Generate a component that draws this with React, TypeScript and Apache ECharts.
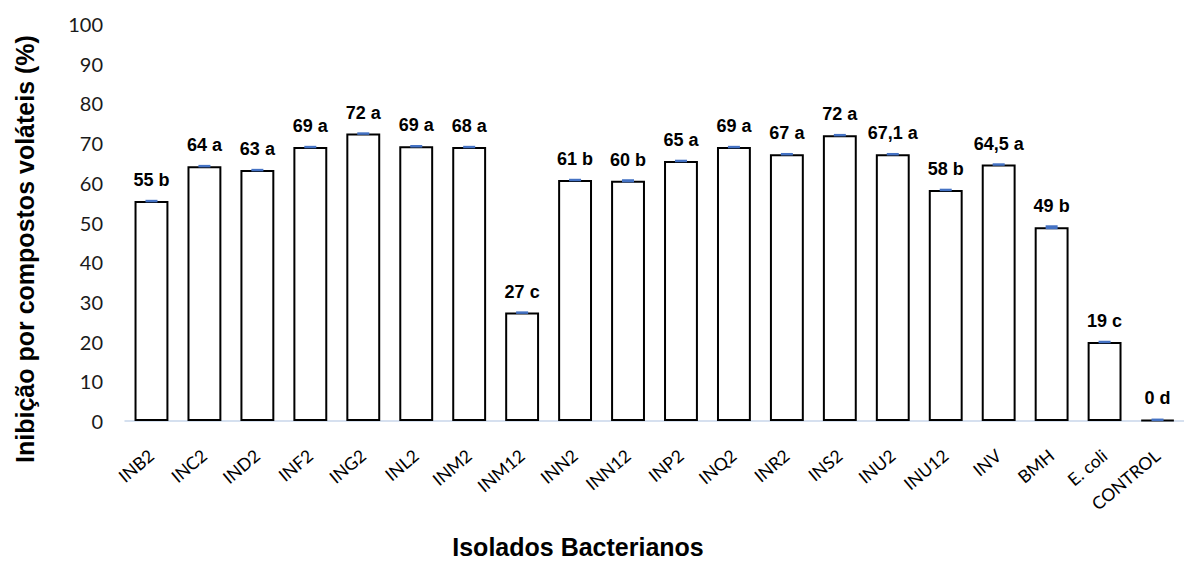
import React, { useEffect, useRef } from "react";
import * as echarts from "echarts";

const categories = ["INB2", "INC2", "IND2", "INF2", "ING2", "INL2", "INM2", "INM12", "INN2", "INN12", "INP2", "INQ2", "INR2", "INS2", "INU2", "INU12", "INV", "BMH", "E. coli", "CONTROL"];
const values = [55.4, 64.2, 63.2, 69.0, 72.4, 69.2, 69.0, 27.3, 60.7, 60.5, 65.5, 69.0, 67.2, 72.0, 67.2, 58.2, 64.6, 48.8, 19.9, 0.3];
const errors = [0.3, 0.2, 0.2, 0.2, 0.2, 0.2, 0.3, 0.2, 0.3, 0.4, 0.2, 0.2, 0.2, 0.2, 0.2, 0.2, 0.3, 0.5, 0.3, 0.2];
const valueLabels = ["55 b", "64 a", "63 a", "69 a", "72 a", "69 a", "68 a", "27 c", "61 b", "60 b", "65 a", "69 a", "67 a", "72 a", "67,1 a", "58 b", "64,5 a", "49 b", "19 c", "0 d"];
const yTicks = [0, 10, 20, 30, 40, 50, 60, 70, 80, 90, 100];

export default function App() {
  const ref = useRef<HTMLDivElement>(null);
  useEffect(() => {
    const chart = echarts.init(ref.current!, null, { renderer: "svg" });
    chart.setOption({
      animation: false,
      backgroundColor: "#ffffff",
      grid: { left: 125, top: 24, width: 1072, bottom: 141, containLabel: false },
      xAxis: {
        type: "category",
        data: categories,
        axisLine: { show: true, lineStyle: { color: "#C8D6EA", width: 1.5 } },
        axisTick: { show: false },
        axisLabel: {
          interval: 0,
          rotate: 40,
          margin: 32,
          fontSize: 17.5,
          color: "#000",
          fontFamily: "Lato, 'Open Sans', sans-serif",
        },
      },
      yAxis: {
        type: "value",
        min: yTicks[0],
        max: yTicks[yTicks.length - 1],
        interval: 10,
        splitLine: { show: false },
        axisLine: { show: false },
        axisTick: { show: false },
        axisLabel: {
          margin: 22,
          fontSize: 20,
          color: "#1a1a1a",
          fontFamily: "Lato, 'Open Sans', sans-serif",
        },
      },
      series: [
        {
          type: "bar",
          data: values,
          barCategoryGap: "36%",
          itemStyle: { color: "#ffffff", borderColor: "#000000", borderWidth: 2 },
          label: {
            show: true,
            position: "top",
            distance: 12,
            fontSize: 18,
            fontWeight: "bold",
            color: "#000",
            fontFamily: "'Liberation Sans', Arial, sans-serif",
            formatter: (p: any) => valueLabels[p.dataIndex],
          },
        },
        {
          type: "custom",
          data: values.map((v, i) => [i, v, errors[i]]),
          renderItem: (params: any, api: any) => {
            const i = api.value(0);
            const v = api.value(1);
            const e = api.value(2);
            const top = api.coord([i, v + e]);
            const bot = api.coord([i, v - e]);
            const h = Math.max(bot[1] - top[1], 2.5);
            return {
              type: "rect",
              shape: { x: top[0] - 6, y: (top[1] + bot[1]) / 2 - h / 2, width: 12, height: h },
              style: { fill: "#4472C4" },
            };
          },
          z: 5,
        },
      ],
      graphic: [
        {
          type: "text",
          x: 25,
          y: 249,
          rotation: Math.PI / 2,
          style: {
            text: "Inibição por compostos voláteis (%)",
            fontSize: 25,
            fontWeight: "bold",
            fontFamily: "'Liberation Sans', Arial, sans-serif",
            fill: "#000",
            textAlign: "center",
            textVerticalAlign: "middle",
          },
        },
        {
          type: "text",
          x: 578,
          y: 547,
          style: {
            text: "Isolados Bacterianos",
            fontSize: 25,
            fontWeight: "bold",
            fontFamily: "'Liberation Sans', Arial, sans-serif",
            fill: "#000",
            textAlign: "center",
            textVerticalAlign: "middle",
          },
        },
      ],
    });
    return () => chart.dispose();
  }, []);
  return <div ref={ref} style={{ position: "absolute", left: 0, top: 0, width: 1184, height: 562 }} />;
}
